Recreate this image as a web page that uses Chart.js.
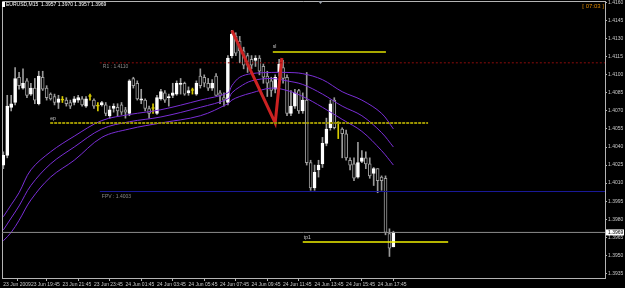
<!DOCTYPE html>
<html>
<head>
<meta charset="utf-8">
<script src="https://cdn.jsdelivr.net/npm/chart.js@4.4.1/dist/chart.umd.min.js"></script>
<style>
  html, body { margin: 0; padding: 0; background: #000; }
  #wrap { width: 625px; height: 288px; position: relative; background: #000; }
</style>
</head>
<body>
<div id="wrap"><canvas id="c"></canvas></div>
<script>
// EURUSD M15 — candles, three MA bands, pivot levels and trade lines (ep / sl / tp1)
const titleText = 'EURUSD,M15  1.3957 1.3970 1.3957 1.3969'
const timerText = '[ 07:03 ]'

// OHLC, one entry per bar (bar 0 = 23 Jun 18:00)
const opens = [
  1.4025, 1.4033, 1.4073, 1.4077, 1.4098, 1.4089, 1.4095, 1.4084, 1.4089, 1.4076,
  1.4098, 1.4089, 1.4084, 1.4082, 1.4077, 1.4079, 1.4079, 1.4077, 1.4077, 1.4079,
  1.4080, 1.4074, 1.4082, 1.4079, 1.4074, 1.4075, 1.4075, 1.4066, 1.4072, 1.4073,
  1.4075, 1.4071, 1.4068, 1.4097, 1.4093, 1.4079, 1.4079, 1.4072, 1.4072, 1.4068,
  1.4080, 1.4085, 1.4081, 1.4083, 1.4084, 1.4092, 1.4093, 1.4085, 1.4087, 1.4084,
  1.4099, 1.4098, 1.4093, 1.4089, 1.4099, 1.4085, 1.4081, 1.4077, 1.4116, 1.4132,
  1.4128, 1.4120, 1.4116, 1.4113, 1.4112, 1.4114, 1.4107, 1.4099, 1.4095, 1.4088,
  1.4102, 1.4106, 1.4098, 1.4068, 1.4074, 1.4087, 1.4070, 1.4079, 1.4027, 1.4006,
  1.4021, 1.4026, 1.4043, 1.4056, 1.4079, 1.4060, 1.4055, 1.4051, 1.4029, 1.4026,
  1.4015, 1.4028, 1.4031, 1.4026, 1.4018, 1.4022, 1.4015, 1.4014, 1.3968, 1.3957
]
const highs = [
  1.4036, 1.4083, 1.4083, 1.4106, 1.4102, 1.4105, 1.4097, 1.4093, 1.4097, 1.4103,
  1.4103, 1.4091, 1.4085, 1.4084, 1.4083, 1.4082, 1.4081, 1.4079, 1.4082, 1.4083,
  1.4082, 1.4082, 1.4084, 1.4080, 1.4077, 1.4078, 1.4077, 1.4074, 1.4076, 1.4076,
  1.4077, 1.4073, 1.4096, 1.4098, 1.4095, 1.4088, 1.4080, 1.4074, 1.4076, 1.4083,
  1.4088, 1.4087, 1.4084, 1.4093, 1.4095, 1.4097, 1.4094, 1.4090, 1.4089, 1.4095,
  1.4105, 1.4100, 1.4097, 1.4096, 1.4101, 1.4087, 1.4085, 1.4116, 1.4137, 1.4135,
  1.4132, 1.4123, 1.4118, 1.4116, 1.4116, 1.4116, 1.4109, 1.4103, 1.4098, 1.4100,
  1.4113, 1.4112, 1.4100, 1.4087, 1.4088, 1.4088, 1.4085, 1.4102, 1.4029, 1.4025,
  1.4029, 1.4048, 1.4064, 1.4079, 1.4081, 1.4061, 1.4056, 1.4054, 1.4031, 1.4031,
  1.4044, 1.4037, 1.4036, 1.4031, 1.4023, 1.4022, 1.4016, 1.4016, 1.3972, 1.3970
]
const lows = [
  1.4022, 1.4031, 1.4070, 1.4075, 1.4088, 1.4088, 1.4081, 1.4083, 1.4076, 1.4075,
  1.4087, 1.4079, 1.4079, 1.4075, 1.4072, 1.4077, 1.4074, 1.4072, 1.4075, 1.4077,
  1.4074, 1.4073, 1.4079, 1.4072, 1.4070, 1.4074, 1.4066, 1.4064, 1.4069, 1.4066,
  1.4067, 1.4064, 1.4066, 1.4089, 1.4079, 1.4076, 1.4070, 1.4064, 1.4068, 1.4067,
  1.4079, 1.4077, 1.4074, 1.4081, 1.4083, 1.4084, 1.4083, 1.4083, 1.4084, 1.4083,
  1.4089, 1.4090, 1.4087, 1.4087, 1.4083, 1.4076, 1.4074, 1.4075, 1.4114, 1.4116,
  1.4110, 1.4105, 1.4102, 1.4105, 1.4107, 1.4100, 1.4093, 1.4082, 1.4082, 1.4085,
  1.4099, 1.4093, 1.4066, 1.4066, 1.4072, 1.4068, 1.4068, 1.4025, 1.4004, 1.4004,
  1.4015, 1.4023, 1.4041, 1.4054, 1.4055, 1.4047, 1.4031, 1.4029, 1.4021, 1.4012,
  1.4014, 1.4027, 1.4022, 1.4014, 1.4008, 1.4002, 1.4004, 1.3967, 1.3949, 1.3957
]
const closes = [
  1.4033, 1.4074, 1.4076, 1.4097, 1.4091, 1.4093, 1.4083, 1.4089, 1.4079, 1.4099,
  1.4088, 1.4081, 1.4080, 1.4077, 1.4080, 1.4079, 1.4076, 1.4074, 1.4080, 1.4081,
  1.4075, 1.4080, 1.4082, 1.4074, 1.4074, 1.4077, 1.4068, 1.4071, 1.4074, 1.4070,
  1.4069, 1.4069, 1.4095, 1.4091, 1.4080, 1.4080, 1.4072, 1.4068, 1.4072, 1.4081,
  1.4086, 1.4079, 1.4082, 1.4085, 1.4093, 1.4093, 1.4084, 1.4087, 1.4087, 1.4093,
  1.4091, 1.4093, 1.4089, 1.4093, 1.4083, 1.4083, 1.4079, 1.4114, 1.4134, 1.4118,
  1.4120, 1.4108, 1.4108, 1.4108, 1.4114, 1.4103, 1.4098, 1.4093, 1.4087, 1.4098,
  1.4109, 1.4097, 1.4068, 1.4074, 1.4085, 1.4070, 1.4079, 1.4027, 1.4006, 1.4019,
  1.4025, 1.4043, 1.4055, 1.4076, 1.4056, 1.4060, 1.4051, 1.4031, 1.4025, 1.4014,
  1.4027, 1.4031, 1.4026, 1.4016, 1.4022, 1.4012, 1.4012, 1.3969, 1.3956, 1.3969
]

// moving-average band, sampled at these bars
const maBars = [0, 2, 4, 7, 12, 18, 25, 32, 40, 50, 57, 58, 60, 63, 68, 72, 76, 81, 86, 91, 96, 99]
const maUpper = [1.3982, 1.3992, 1.4002, 1.4021, 1.4036, 1.4049, 1.4062, 1.4067, 1.4071, 1.4079, 1.4085,
  1.4091, 1.4098, 1.4101, 1.4102, 1.4102, 1.4101, 1.4096, 1.4086, 1.4079, 1.4068, 1.4055]
const maMiddle = [1.3971, 1.3981, 1.3991, 1.4008, 1.4026, 1.4040, 1.4055, 1.4061, 1.4065, 1.4073, 1.4080,
  1.4085, 1.4090, 1.4095, 1.4097, 1.4095, 1.4092, 1.4084, 1.4074, 1.4066, 1.4052, 1.4040]
const maLower = [1.3962, 1.3969, 1.3979, 1.3996, 1.4015, 1.4029, 1.4048, 1.4055, 1.4060, 1.4066, 1.4076,
  1.4079, 1.4082, 1.4085, 1.4089, 1.4087, 1.4082, 1.4073, 1.4063, 1.4053, 1.4037, 1.4025]

// horizontal objects: price level and [fromBar, toBar]
const r1Level = 1.4110, r1Span = [24.5, 152.7]
const fpvLevel = 1.4003, fpvSpan = [24.5, 152.7]
const bidLevel = 1.3969, bidSpan = [-0.33, 152.7]
const epLevel = 1.4060, epSpan = [11.9, 107.8]
const slLevel = 1.4119, slSpan = [68.4, 97.1]
const tpLevel = 1.3961, tpSpan = [76, 112.9]

// red trend lines (V)
const vBars = [58, 69, 70.7]
const vPrices = [1.4137, 1.4060, 1.4114]

// axes
const priceTicks = [1.4160, 1.4145, 1.4130, 1.4115, 1.4100, 1.4085, 1.4070, 1.4055,
  1.4040, 1.4025, 1.4010, 1.3995, 1.3980, 1.3965, 1.3950, 1.3935]
const timeTickBars = [0, 7, 15, 23, 31, 39, 47, 55, 63, 71, 79, 87, 95]
const timeTickLabels = ['23 Jun 2009', '23 Jun 19:45', '23 Jun 21:45', '23 Jun 23:45', '24 Jun 01:45',
  '24 Jun 03:45', '24 Jun 05:45', '24 Jun 07:45', '24 Jun 09:45', '24 Jun 11:45', '24 Jun 13:45',
  '24 Jun 15:45', '24 Jun 17:45']

const bars = opens.map((o, i) => i)
const isDoji = i => opens[i] === closes[i]
const isBull = i => closes[i] > opens[i]
const YELLOW = '#d8cc00'
const AXIS = '#b4b4b4'
const FONT = { family: 'Liberation Sans', size: 5 }

const span = (s, level) => s.map(x => ({ x, y: level }))
const hline = (s, level, color, width, dash) => ({
  type: 'line', data: span(s, level), borderColor: color, borderWidth: width,
  borderDash: dash || [], pointRadius: 0, order: 0
})
const maLine = vals => ({
  type: 'line', data: maBars.map((b, k) => ({ x: b, y: vals[k] })),
  borderColor: '#7a2ed6', borderWidth: 1, pointRadius: 0, tension: 0.35, order: 1
})

// frame + object labels + header texts
const overlay = {
  id: 'overlay',
  beforeDatasetsDraw (chart) {
    const { ctx, chartArea: a } = chart
    ctx.save()
    ctx.strokeStyle = AXIS
    ctx.lineWidth = 1
    ctx.beginPath()
    ctx.moveTo(a.left + 0.5, a.bottom)
    ctx.lineTo(a.left + 0.5, a.top + 0.5)
    ctx.lineTo(a.right, a.top + 0.5)
    ctx.stroke()
    ctx.restore()
  },
  afterDraw (chart) {
    const { ctx, chartArea: a, scales: { x, y } } = chart
    ctx.save()
    ctx.textBaseline = 'middle'
    ctx.font = '5px "Liberation Sans"'

    ctx.fillStyle = '#8a8a8a'
    ctx.fillText('R1 : ' + r1Level.toFixed(4), x.getPixelForValue(r1Span[0]) + 3, y.getPixelForValue(r1Level) + 4)
    ctx.fillText('FPV : ' + fpvLevel.toFixed(4), x.getPixelForValue(fpvSpan[0]) + 2, y.getPixelForValue(fpvLevel) + 5)

    ctx.fillStyle = '#c8c8c8'
    ctx.fillText('ep', x.getPixelForValue(epSpan[0]), y.getPixelForValue(epLevel) - 4)
    ctx.fillText('sl', x.getPixelForValue(slSpan[0]), y.getPixelForValue(slLevel) - 5)
    ctx.fillText('tp1', x.getPixelForValue(tpSpan[0]) + 1, y.getPixelForValue(tpLevel) - 4)

    // header
    ctx.fillStyle = '#ffffff'
    ctx.fillRect(2, 2, 3, 5)
    ctx.fillText(titleText, 6, 5)
    ctx.fillStyle = '#e08a00'
    ctx.font = '6px "Liberation Sans"'
    ctx.textAlign = 'right'
    ctx.fillText(timerText, a.right - 1, 6)

    // chart shift marker
    ctx.fillStyle = '#9aa0a8'
    ctx.beginPath()
    ctx.moveTo(318, a.top)
    ctx.lineTo(323, a.top)
    ctx.lineTo(320.5, a.top + 3)
    ctx.fill()

    // bid label on price axis
    const by = y.getPixelForValue(bidLevel)
    ctx.fillStyle = '#ffffff'
    ctx.fillRect(a.right + 1, by - 3, 18, 6)
    ctx.fillStyle = '#000000'
    ctx.textAlign = 'left'
    ctx.font = '5px "Liberation Sans"'
    ctx.fillText(bidLevel.toFixed(4), a.right + 3, by)
    ctx.restore()
  }
}

new Chart(document.getElementById('c'), {
  type: 'bar',
  data: {
    datasets: [
      hline(bidSpan, bidLevel, '#8c8c8c', 1),
      hline(r1Span, r1Level, '#8c0c0c', 1, [2, 2]),
      hline(fpvSpan, fpvLevel, '#1a1a9a', 1),
      hline(epSpan, epLevel, '#9c9400', 2, [3, 1]),
      hline(slSpan, slLevel, '#e0e000', 1.5),
      hline(tpSpan, tpLevel, '#f0f000', 1.5),
      {
        type: 'line', data: vBars.map((b, k) => ({ x: b, y: vPrices[k] })),
        borderColor: '#cc2222', borderWidth: 3, pointRadius: 0, order: 0
      },
      maLine(maUpper),
      maLine(maMiddle),
      maLine(maLower),
      {
        // bodies
        data: bars.map(i => ({ x: i, y: [opens[i], closes[i]] })),
        grouped: false, barThickness: 3, minBarLength: 1, borderSkipped: false, borderWidth: 1,
        backgroundColor: bars.map(i => isDoji(i) ? YELLOW : isBull(i) ? '#ffffff' : '#000000'),
        borderColor: bars.map(i => isDoji(i) ? YELLOW : isBull(i) ? '#ffffff' : '#a0a0a0'),
        order: 2
      },
      {
        // wicks
        data: bars.map(i => ({ x: i, y: [lows[i], highs[i]] })),
        grouped: false, barThickness: 1, borderWidth: 0,
        backgroundColor: bars.map(i => isDoji(i) ? YELLOW : '#9a9a9a'),
        order: 3
      }
    ]
  },
  options: {
    responsive: true,
    maintainAspectRatio: false,
    animation: false,
    devicePixelRatio: 1,
    layout: { padding: { left: 2, top: 1, right: 0, bottom: 0 } },
    plugins: { legend: { display: false }, tooltip: { enabled: false } },
    scales: {
      x: {
        type: 'linear', min: -0.33, max: 152.7, offset: false,
        afterBuildTicks: s => { s.ticks = timeTickBars.map(v => ({ value: v })) },
        afterFit: s => { s.height = 10; s.paddingLeft = 0; s.paddingRight = 0 },
        ticks: { autoSkip: false, maxRotation: 0, minRotation: 0, align: 'start', padding: 1, color: '#c8c8c8', font: FONT,
          callback: (v, i) => timeTickLabels[i] },
        grid: { drawOnChartArea: false, tickLength: 3, color: AXIS },
        border: { display: true, color: AXIS }
      },
      y: {
        type: 'linear', position: 'right', min: 1.39311, max: 1.41614,
        afterBuildTicks: s => { s.ticks = priceTicks.map(v => ({ value: v })) },
        afterFit: s => { s.width = 20; s.paddingTop = 0; s.paddingBottom = 0 },
        ticks: { padding: 1, color: '#c8c8c8', font: FONT, callback: v => v.toFixed(4) },
        grid: { drawOnChartArea: false, tickLength: 2, color: AXIS },
        border: { display: true, color: AXIS }
      }
    }
  },
  plugins: [overlay]
})
</script>
</body>
</html>
